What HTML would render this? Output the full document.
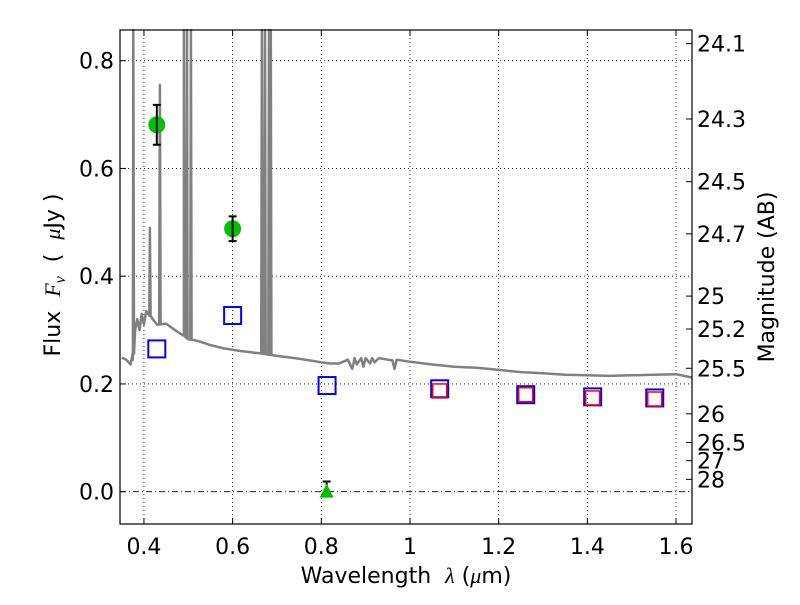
<!DOCTYPE html>
<html><head><meta charset="utf-8"><style>
body{margin:0;background:#fff;width:800px;height:600px;overflow:hidden}
svg text{font-family:"DejaVu Sans","Liberation Sans",sans-serif;fill:#000}
</style></head><body>
<svg id="chart" width="800" height="600">
<rect x="0" y="0" width="800" height="600" fill="#fff"/>
<g id="grid"></g>
<g id="marks"></g>
<rect x="120" y="30" width="572" height="494" fill="none" stroke="#000" stroke-width="1.2"/>
<g id="axes"></g>
<text x="406" y="583" font-size="22" text-anchor="middle">Wavelength&#160;&#160;<tspan font-family="Liberation Serif" font-style="italic">λ</tspan> (<tspan font-family="Liberation Serif" font-style="italic">μ</tspan>m)</text>
<text transform="translate(60,275) rotate(-90)" font-size="22" text-anchor="middle">Flux&#160;&#160;<tspan font-family="Liberation Serif" font-style="italic">F<tspan font-size="16" dy="5">ν</tspan></tspan><tspan dy="-5">&#160;&#160;(&#160;&#160;</tspan><tspan font-family="Liberation Serif" font-style="italic">μ</tspan>Jy )</text>
<text transform="translate(774,277) rotate(-90)" font-size="22" text-anchor="middle">Magnitude (AB)</text>
</svg>
<script>
const xTicks=[0.4,0.6,0.8,1.0,1.2,1.4,1.6];
const xTickLabels=["0.4","0.6","0.8","1","1.2","1.4","1.6"];
const yTicks=[0,0.2,0.4,0.6,0.8];
const yTickLabels=["0.0","0.2","0.4","0.6","0.8"];
const magTicks=[24.1,24.3,24.5,24.7,25,25.2,25.5,26,26.5,27,28];
const specLam=[0.35,0.36,0.37,0.375,0.38,0.385,0.39,0.395,0.40,0.405,0.41,0.42,0.43,0.45,0.47,0.49,0.50,0.52,0.55,0.58,0.62,0.66,0.70,0.74,0.78,0.80,0.82,0.84,0.86,0.87,0.875,0.88,0.89,0.895,0.90,0.91,0.915,0.92,0.93,0.95,0.96,0.965,0.97,1.0,1.05,1.1,1.15,1.2,1.25,1.3,1.35,1.4,1.45,1.5,1.55,1.6,1.636];
const specFlux=[0.249,0.245,0.236,0.245,0.30,0.32,0.30,0.33,0.31,0.335,0.33,0.32,0.31,0.312,0.30,0.29,0.283,0.28,0.272,0.266,0.261,0.257,0.252,0.248,0.243,0.240,0.238,0.238,0.245,0.228,0.248,0.236,0.248,0.232,0.248,0.238,0.248,0.240,0.248,0.245,0.244,0.228,0.245,0.241,0.236,0.232,0.230,0.226,0.222,0.220,0.217,0.216,0.215,0.216,0.217,0.218,0.212];
const lineLam=[0.376,0.4135,0.436,0.490,0.497,0.506,0.666,0.673,0.682,0.686];
const linePeak=[0.9,0.49,0.755,0.9,0.9,0.9,0.9,0.9,0.9,0.9];
const photLam=[0.429,0.600];
const photFlux=[0.681,0.488];
const photErr=[0.037,0.023];
const limLam=[0.812];
const limFlux=[0.0];
const limErr=[0.019];
const modelLam=[0.429,0.600,0.813,1.067,1.261,1.412,1.552];
const modelFlux=[0.265,0.327,0.197,0.191,0.180,0.176,0.174];
const model2Lam=[1.067,1.261,1.412,1.552];
const model2Flux=[0.187,0.180,0.174,0.172];

const X0=120,X1=692,Y0=30,Y1=524,xmin=0.346,xmax=1.636,ymin=-0.06,ymax=0.857;
const sx=v=>X0+(v-xmin)/(xmax-xmin)*(X1-X0);
const sy=v=>Y1-(v-ymin)/(ymax-ymin)*(Y1-Y0);
const NS="http://www.w3.org/2000/svg";
function mk(tag,attrs,parent){const e=document.createElementNS(NS,tag);for(const k in attrs)e.setAttribute(k,attrs[k]);parent.appendChild(e);return e;}
const grid=document.getElementById('grid'),marks=document.getElementById('marks'),axes=document.getElementById('axes');
xTicks.forEach((t,i)=>{const x=sx(t);
 let g=mk('line',{x1:x,x2:x,y1:Y0,y2:Y1,stroke:'#000','stroke-width':0.8,'stroke-dasharray':'1,3'},grid);
 
 
 mk('line',{x1:x,x2:x,y1:Y1,y2:Y1-6,stroke:'#000'},axes);
 mk('line',{x1:x,x2:x,y1:Y0,y2:Y0+6,stroke:'#000'},axes);
 let tx=mk('text',{x:x,y:554,'font-size':22,'text-anchor':'middle'},axes);tx.textContent=xTickLabels[i];
 
 
});
yTicks.forEach((t,i)=>{const y=sy(t);
 let g=mk('line',{x1:X0,x2:X1,y1:y,y2:y,stroke:'#000','stroke-width':0.8,'stroke-dasharray':t===0?'6,3,1,3':'1,3'},grid);
 
 
 mk('line',{x1:X0,x2:X0+6,y1:y,y2:y,stroke:'#000'},axes);
 let tx=mk('text',{x:114,y:y+8,'font-size':22,'text-anchor':'end'},axes);tx.textContent=yTickLabels[i];
 
 
});
magTicks.forEach(m=>{const f=Math.pow(10,-0.4*(m-23.9));const y=sy(f);
 mk('line',{x1:X1,x2:X1-6,y1:y,y2:y,stroke:'#000'},axes);
 let tx=mk('text',{x:697,y:y+8,'font-size':22},axes);tx.textContent=String(m);
 
 
});
const interp=l=>{for(let i=0;i<specLam.length-1;i++){if(l>=specLam[i]&&l<=specLam[i+1]){const t=(l-specLam[i])/(specLam[i+1]-specLam[i]);return specFlux[i]+t*(specFlux[i+1]-specFlux[i]);}}return specFlux[specFlux.length-1];};
let pts=specLam.map((l,i)=>[l,specFlux[i]]);
lineLam.forEach((l,i)=>{const b=interp(l);pts.push([l-0.0015,b],[l,linePeak[i]],[l+0.0015,b]);});
pts.sort((a,b)=>a[0]-b[0]);
let sp=mk('polyline',{points:pts.map(p=>sx(p[0]).toFixed(1)+','+Math.max(Y0,sy(p[1])).toFixed(1)).join(' '),fill:'none',stroke:'#808080','stroke-width':2.5,'stroke-linejoin':'round'},marks);


modelLam.forEach((l,i)=>{let r=mk('rect',{x:sx(l)-8.5,y:sy(modelFlux[i])-8.5,width:17,height:17,fill:'none',stroke:'#00f','stroke-width':2},marks);
 
 });
model2Lam.forEach((l,i)=>{let r=mk('rect',{x:sx(l)-7,y:sy(model2Flux[i])-7,width:14,height:14,fill:'none',stroke:'#f00','stroke-width':1.5},marks);
 
 });
photLam.forEach((l,i)=>{const x=sx(l);
 let c=mk('circle',{cx:x,cy:sy(photFlux[i]),r:8.5,fill:'#00c000'},marks);
 
 
 const a=sy(photFlux[i]+photErr[i]),b=sy(photFlux[i]-photErr[i]);
 let e=mk('path',{d:`M${x},${a}V${b}M${x-4},${a}H${x+4}M${x-4},${b}H${x+4}`,stroke:'#000','stroke-width':2,fill:'none'},marks);
 
 });
limLam.forEach((l,i)=>{const x=sx(l),y=sy(limFlux[i]);
 const a=sy(limFlux[i]+limErr[i]);
 let e=mk('path',{d:`M${x},${a}V${y}M${x-4},${a}H${x+4}`,stroke:'#000','stroke-width':2,fill:'none'},marks);
 
 
 let t=mk('polygon',{points:`${x},${y-8} ${x-7},${y+6} ${x+7},${y+6}`,fill:'#00c000'},marks);
 
 });
</script>
</body></html>
